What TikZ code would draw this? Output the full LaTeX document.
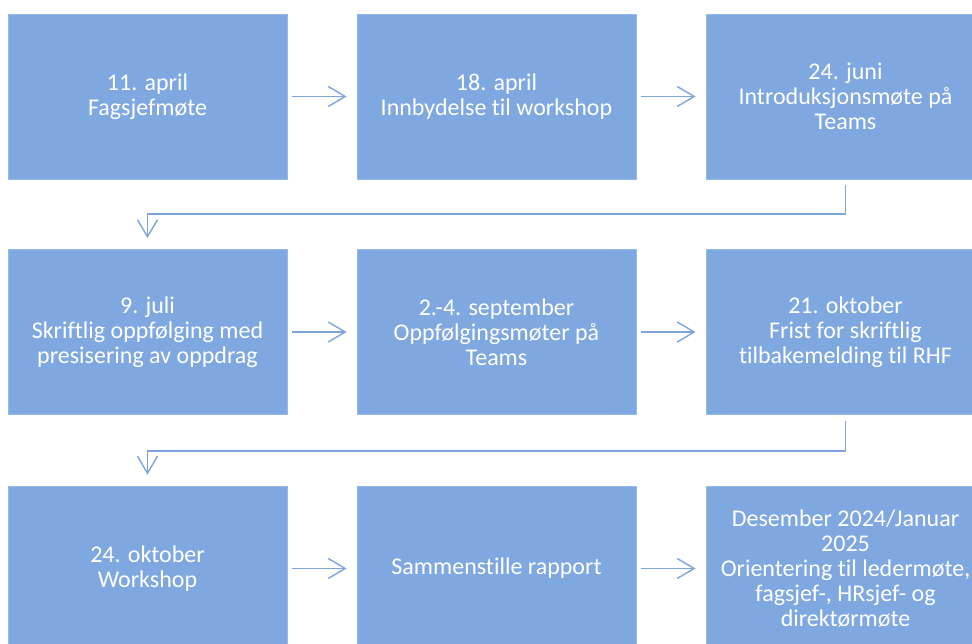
\documentclass[tikz,border=0pt]{standalone}
\usepackage{fontspec}
\setmainfont{Carlito}[Ligatures={NoCommon}]
\usetikzlibrary{arrows.meta}
\definecolor{boxblue}{RGB}{127,168,224}
\definecolor{boxedge}{RGB}{150,186,232}
\definecolor{arrowblue}{RGB}{124,165,222}
\tikzset{
  stepbox/.style={rectangle, fill=boxblue, draw=boxedge, line width=0.8pt,
    minimum width=279pt, minimum height=165pt, inner sep=0pt,
    text=white, align=center, font=\fontsize{24}{24.8}\selectfont},
  flowarrow/.style={draw=arrowblue, line width=1.4pt,
    -{Straight Barb[length=17pt,width=20pt,line width=1.4pt]}},
}
\begin{document}
\begin{tikzpicture}[x=1pt,y=-1pt]
\useasboundingbox (0,0) rectangle (972,643);
\clip (0,0) rectangle (972,643);
% row 1
\node[stepbox] (b1) at (147.5,96.5) {11. april\\Fagsjefmøte};
\node[stepbox] (b2) at (496.5,96.5) {18. april\\Innbydelse til workshop};
\node[stepbox] (b3) at (845.5,96.5) {24. juni\\Introduksjonsmøte på\\Teams};
% row 2
\node[stepbox] (b4) at (147.5,332) {9. juli\\Skriftlig oppfølging med\\presisering av oppdrag};
\node[stepbox] (b5) at (496.5,332) {2.-4. september\\Oppfølgingsmøter på\\Teams};
\node[stepbox] (b6) at (845.5,332) {21. oktober\\Frist for skriftlig\\tilbakemelding til RHF};
% row 3
\node[stepbox] (b7) at (147.5,568.5) {24. oktober\\Workshop};
\node[stepbox] (b8) at (496.5,568.5) {Sammenstille rapport};
\node[stepbox] (b9) at (845.5,568.5) {Desember 2024/Januar\\2025\\Orientering til ledermøte,\\fagsjef-, HRsjef- og\\direktørmøte};
% horizontal arrows
\draw[flowarrow, shorten <=5pt, shorten >=10pt] (b1) -- (b2);
\draw[flowarrow, shorten <=5pt, shorten >=10pt] (b2) -- (b3);
\draw[flowarrow, shorten <=5pt, shorten >=10pt] (b4) -- (b5);
\draw[flowarrow, shorten <=5pt, shorten >=10pt] (b5) -- (b6);
\draw[flowarrow, shorten <=5pt, shorten >=10pt] (b7) -- (b8);
\draw[flowarrow, shorten <=5pt, shorten >=10pt] (b8) -- (b9);
% row connectors
\draw[flowarrow, shorten <=6pt, shorten >=11pt] (b3.south) -- ++(0,34.5) -| (b4.north);
\draw[flowarrow, shorten <=6pt, shorten >=11pt] (b6.south) -- ++(0,36) -| (b7.north);
\end{tikzpicture}
\end{document}
